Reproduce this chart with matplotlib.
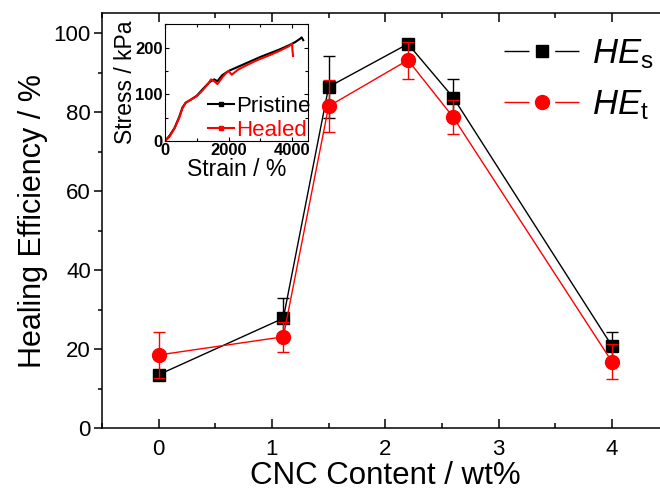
import matplotlib
matplotlib.use("Agg")
import matplotlib.pyplot as plt
from matplotlib.lines import Line2D
from matplotlib.ticker import MultipleLocator

plt.rcParams['font.family'] = ['Liberation Sans', 'DejaVu Sans']
plt.rcParams['mathtext.fontset'] = 'custom'
plt.rcParams['mathtext.it'] = 'Liberation Sans:italic'
plt.rcParams['mathtext.rm'] = 'Liberation Sans'
plt.rcParams['mathtext.bf'] = 'Liberation Sans:bold'

# ---- main data ----
cnc_content = [0, 1.1, 1.5, 2.2, 2.6, 4]
he_s = [13.5, 27.8, 86.4, 97.3, 83.7, 20.8]
he_s_err = [1.0, 5.2, 7.8, 1.0, 4.6, 3.4]
he_t = [18.5, 23.1, 81.5, 93.2, 78.7, 16.8]
he_t_err = [5.8, 3.8, 6.6, 4.7, 4.3, 4.5]
x_ticks = [0, 1, 2, 3, 4]
y_ticks = [0, 20, 40, 60, 80, 100]

# ---- inset data (stress-strain) ----
pristine_strain = [0, 150, 300, 450, 550, 650, 800, 1000, 1200, 1400, 1550, 1650, 1800,
                   2000, 2200, 2500, 2800, 3000, 3300, 3600, 3900, 4100, 4250, 4300, 4350]
pristine_stress = [0, 12, 28, 52, 72, 82, 88, 97, 112, 126, 132, 128, 141,
                   150, 156, 165, 174, 180, 188, 196, 205, 212, 219, 222, 216]
healed_strain = [0, 150, 300, 450, 550, 650, 800, 1000, 1200, 1350, 1450, 1550, 1650, 1800,
                 1900, 2000, 2100, 2300, 2500, 2800, 3000, 3300, 3600, 3900, 4000, 4010, 4030]
healed_stress = [0, 10, 27, 50, 70, 82, 88, 96, 110, 122, 132, 128, 122, 136,
                 144, 150, 142, 153, 160, 170, 176, 184, 193, 203, 208, 195, 182]
inset_x_ticks = [0, 2000, 4000]
inset_y_ticks = [0, 100, 200]

fig = plt.figure(figsize=(6.6, 4.92), dpi=100)
W, H = 660.0, 492.0
ax = fig.add_axes([102 / W, (H - 428) / H, (668.6 - 102) / W, (428 - 13.5) / H])

ax.errorbar(cnc_content, he_s, yerr=he_s_err, color='black', lw=1, marker='s', ms=9,
            mfc='black', mec='black', ecolor='black', elinewidth=1, capsize=4, capthick=1, zorder=3)
ax.errorbar(cnc_content, he_t, yerr=he_t_err, color='red', lw=1, marker='o', ms=10,
            mfc='red', mec='red', ecolor='red', elinewidth=1, capsize=4, capthick=1, zorder=4)

ax.set_xlim(-0.5, 4.5)
ax.set_ylim(0, 105)
ax.set_xticks(x_ticks)
ax.set_yticks(y_ticks)
ax.xaxis.set_minor_locator(MultipleLocator(0.5))
ax.yaxis.set_minor_locator(MultipleLocator(10))
ax.tick_params(axis='x', which='major', direction='in', length=6.5, width=1.1, top=True,
               labelsize=16, pad=8)
ax.tick_params(axis='x', which='minor', direction='in', length=3.5, width=1.1, top=True)
ax.tick_params(axis='y', which='major', direction='out', length=6, width=1.1, labelsize=16, pad=2)
ax.tick_params(axis='y', which='minor', direction='out', length=3, width=1.1)
for s in ax.spines.values():
    s.set_linewidth(1.1)
ax.set_xlabel('CNC Content / wt%', fontsize=22.5, labelpad=1)
ax.set_ylabel('Healing Efficiency / %', fontsize=22, labelpad=4)

leg_s = Line2D([], [], color='black', lw=1, ls=(0, (18, 18.5, 18, 200)), marker='s', ms=9,
               mfc='black', mec='black')
leg_t = Line2D([], [], color='red', lw=1, ls=(0, (18, 18.5, 18, 200)), marker='o', ms=10,
               mfc='red', mec='red')
fig.legend([leg_s, leg_t], [r'$HE_{\mathrm{s}}$', r'$HE_{\mathrm{t}}$'], loc='upper left',
           bbox_to_anchor=(504 / W, 1 - 37 / H), frameon=False, fontsize=25, numpoints=1,
           handlelength=2.16, handletextpad=0.37, borderpad=0, borderaxespad=0, labelspacing=0.5)

# ---- inset ----
axi = fig.add_axes([165 / W, (H - 141) / H, (308 - 165) / W, (141 - 24.3) / H])
axi.plot(pristine_strain, pristine_stress, color='black', lw=1.5)
axi.plot(healed_strain, healed_stress, color='red', lw=1.5)
axi.set_xlim(0, 4500)
axi.set_ylim(0, 250)
axi.set_xticks(inset_x_ticks)
axi.set_yticks(inset_y_ticks)
axi.xaxis.set_minor_locator(MultipleLocator(1000))
axi.yaxis.set_minor_locator(MultipleLocator(50))
axi.tick_params(which='both', direction='in', top=True, right=True, width=0.8)
axi.tick_params(which='major', length=3, labelsize=12, pad=1.5)
axi.tick_params(which='minor', length=2)
for lab in axi.get_xticklabels() + axi.get_yticklabels():
    lab.set_fontweight('bold')
for s in axi.spines.values():
    s.set_linewidth(0.8)
axi.set_xlabel('Strain / %', fontsize=16.5, labelpad=0)
axi.set_ylabel('Stress / kPa', fontsize=16.5, labelpad=-1)
ip = Line2D([], [], color='black', lw=1.5, marker='s', ms=3)
ih = Line2D([], [], color='red', lw=1.5, marker='s', ms=3)
axi.legend([ip, ih], ['Pristine', 'Healed'], loc='lower right', bbox_to_anchor=(1.02, 0.0),
           frameon=False, fontsize=16, numpoints=1, handlelength=1.2, handletextpad=0.1,
           borderpad=0, borderaxespad=0, labelspacing=0.15, labelcolor=['black', 'red'])

fig.savefig('out.png', dpi=100)
